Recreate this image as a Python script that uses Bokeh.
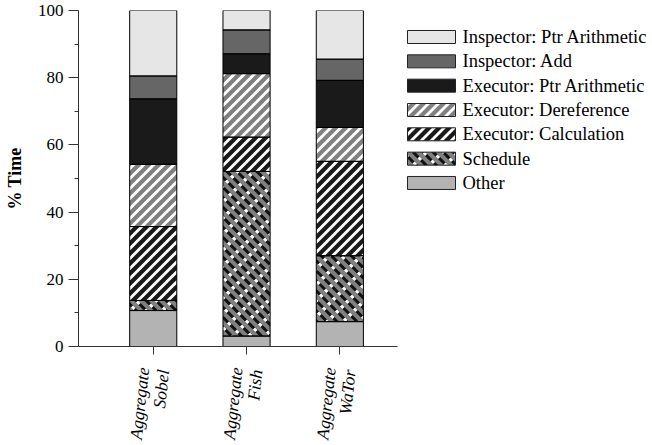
from bokeh.plotting import figure
from bokeh.models import ColumnDataSource, Range1d, FixedTicker
from bokeh.layouts import row
from bokeh.core.properties import value
from bokeh.embed import file_html
from bokeh.resources import INLINE
import math

# ---- data ----
groups = ["Aggregate\nSobel", "Aggregate\nFish", "Aggregate\nWaTor"]
xpos = [1, 2, 3]
other = [10.7, 3.1, 7.4]
schedule = [3.0, 49.0, 19.6]
exec_calc = [22.0, 10.2, 28.1]
exec_deref = [18.5, 18.9, 10.1]
exec_ptr = [19.5, 5.9, 14.0]
insp_add = [6.8, 7.1, 6.3]
insp_ptr = [19.5, 5.8, 14.5]

series_names = ["Other", "Schedule", "Executor: Calculation", "Executor: Dereference",
                "Executor: Ptr Arithmetic", "Inspector: Add", "Inspector: Ptr Arithmetic"]
series_vals = [other, schedule, exec_calc, exec_deref, exec_ptr, insp_add, insp_ptr]
y_ticks = [0, 20, 40, 60, 80, 100]
y_minor = [10, 30, 50, 70, 90]

# ---- styles ----
fills = ["#b3b3b3", "#808080", "#1a1a1a", "#808080", "#1a1a1a", "#666666", "#e6e6e6"]
patterns = [None, "sched", "fwd", "fwd", None, None, None]
FONT = "Liberation Serif"

FRAME_W, FRAME_H = 319, 336
X0, X1 = 0.199, 3.618
BW = 0.505
SX = FRAME_W / (X1 - X0)
SY = FRAME_H / 100.0


def clip(poly, a, b, c):
    """Keep part of polygon with a*x + b*y <= c."""
    out = []
    n = len(poly)
    for i in range(n):
        P = poly[i]
        Q = poly[(i + 1) % n]
        fp = a * P[0] + b * P[1] - c
        fq = a * Q[0] + b * Q[1] - c
        if fp <= 0:
            out.append(P)
        if (fp < 0 < fq) or (fq < 0 < fp):
            t = fp / (fp - fq)
            out.append((P[0] + t * (Q[0] - P[0]), P[1] + t * (Q[1] - P[1])))
    return out


def bands(x0, x1, y0, y1, sx, sy, kind, period=10.0, width=4.0, cut=None):
    """Stripe polygons (in data units) clipped to a rectangle."""
    ya, yb = sorted([y0 * sy, y1 * sy])
    xa, xb = sorted([x0 * sx, x1 * sx])
    rect = [(xa, ya), (xb, ya), (xb, yb), (xa, yb)]
    if kind == "fwd":      # "/" : u = X - Y
        lo, hi = xa - yb, xb - ya
        coef = (1, -1)
    else:                  # "\" : v = X + Y
        lo, hi = xa + ya, xb + yb
        coef = (1, 1)
    polys = []
    k = math.floor(lo / period) - 1
    while k * period <= hi:
        a0 = k * period
        a1 = a0 + width
        pl = clip(rect, -coef[0], -coef[1], -a0)
        pl = clip(pl, coef[0], coef[1], a1) if pl else pl
        if len(pl) >= 3:
            if cut is None:
                polys.append(pl)
            else:
                cp, cw = cut
                ulo = min(X - Y for X, Y in pl)
                uhi = max(X - Y for X, Y in pl)
                m = math.floor(ulo / cp) - 1
                while m * cp <= uhi:
                    b0 = m * cp
                    q = clip(pl, -1, 1, -b0)
                    q = clip(q, 1, -1, b0 + cw) if q else q
                    if len(q) >= 3:
                        polys.append(q)
                    m += 1
        k += 1
    xs = [[X / sx for X, Y in pl] for pl in polys]
    ys = [[Y / sy for X, Y in pl] for pl in polys]
    return xs, ys


def draw_pattern(fig, kind, x0, x1, y0, y1, sx, sy):
    if kind == "fwd":
        xs, ys = bands(x0, x1, y0, y1, sx, sy, "fwd", 10.0, 4.0)
        fig.patches(xs, ys, fill_color="white", line_color=None)
    elif kind == "sched":
        xs, ys = bands(x0, x1, y0, y1, sx, sy, "back", 10.0, 4.2)
        fig.patches(xs, ys, fill_color="#111111", line_color=None)
        xs, ys = bands(x0, x1, y0, y1, sx, sy, "back", 10.0, 4.2, cut=(16.0, 5.0))
        fig.patches(xs, ys, fill_color="white", line_color=None)


# ---- main figure ----
data = {"x": xpos}
bottoms = [0.0] * len(xpos)
tops_all = []
for i, v in enumerate(series_vals):
    tops = [b + val for b, val in zip(bottoms, v)]
    data["b%d" % i] = list(bottoms)
    data["t%d" % i] = tops
    tops_all.append((list(bottoms), tops))
    bottoms = tops
src = ColumnDataSource(data)

TOTAL_H = 442
LEFT, TOP = 78, 10
BOTTOM = TOTAL_H - TOP - FRAME_H
p = figure(frame_width=FRAME_W, frame_height=FRAME_H, output_backend="svg", toolbar_location=None,
           x_range=Range1d(X0, X1), y_range=Range1d(0, 100),
           min_border_left=LEFT, min_border_right=2, min_border_top=TOP,
           min_border_bottom=BOTTOM)
p.outline_line_color = None
p.xgrid.visible = False
p.ygrid.visible = False

for i in range(len(series_vals)):
    p.vbar(x="x", width=BW, bottom="b%d" % i, top="t%d" % i, source=src,
           fill_color=fills[i], line_color=None)
    if patterns[i]:
        bl, tl = tops_all[i]
        for xc, b, t in zip(xpos, bl, tl):
            draw_pattern(p, patterns[i], xc - BW / 2, xc + BW / 2, b, t, SX, SY)
for i in range(len(series_vals)):
    p.vbar(x="x", width=BW, bottom="b%d" % i, top="t%d" % i, source=src,
           fill_color=None, line_color="#000000", line_width=1)

xa = p.xaxis[0]
xa.ticker = FixedTicker(ticks=xpos)
xa.major_label_overrides = {x: g for x, g in zip(xpos, groups)}
xa.major_label_orientation = math.radians(84)
xa.major_label_text_font = FONT
xa.major_label_text_font_size = "17.5px"
xa.major_label_text_font_style = "italic"
xa.major_label_text_color = "#000000"
xa.major_label_text_line_height = 1.0
xa.major_tick_out = 8
xa.major_tick_in = 0
xa.minor_tick_line_color = None
xa.axis_line_color = "#333333"
xa.major_tick_line_color = "#333333"
xa.major_label_standoff = 14

ya = p.yaxis[0]
ya.ticker = FixedTicker(ticks=y_ticks, minor_ticks=y_minor)
ya.major_tick_out = 10
ya.major_tick_in = 0
ya.minor_tick_out = 4
ya.minor_tick_in = 0
ya.axis_line_color = "#333333"
ya.major_tick_line_color = "#333333"
ya.minor_tick_line_color = "#333333"
ya.major_label_text_font = FONT
ya.major_label_text_font_size = "17px"
ya.major_label_text_color = "#000000"
ya.major_label_standoff = 5
ya.axis_label = "% Time"
ya.axis_label_text_font = FONT
ya.axis_label_text_font_size = "18px"
ya.axis_label_text_font_style = "bold"
ya.axis_label_text_color = "#000000"
ya.axis_label_standoff = 10

# ---- legend figure (frame aligned with the main frame; y in canvas pixels) ----
LW = 247
q = figure(frame_width=LW, frame_height=FRAME_H, output_backend="svg", toolbar_location=None,
           x_range=Range1d(0, LW), y_range=Range1d(TOP + FRAME_H, TOP),
           x_axis_type=None, y_axis_type=None,
           min_border_left=0, min_border_right=0, min_border_top=TOP, min_border_bottom=BOTTOM)
q.outline_line_color = None
q.xgrid.visible = False
q.ygrid.visible = False

order = list(reversed(range(len(series_names))))
box_x0, box_x1 = 8, 56
pitch, first = 24.33, 36.5
lab_x, lab_y, lab_t = [], [], []
for j, i in enumerate(order):
    yc = first + pitch * j
    y0, y1 = yc - 6.5, yc + 6.5
    q.quad(left=box_x0, right=box_x1, bottom=y1, top=y0, fill_color=fills[i], line_color=None)
    if patterns[i]:
        draw_pattern(q, patterns[i], box_x0, box_x1, y0, y1, 1.0, -1.0)
    q.quad(left=box_x0, right=box_x1, bottom=y1, top=y0, fill_color=None,
           line_color="#222222", line_width=1)
    lab_x.append(63)
    lab_y.append(yc)
    lab_t.append(series_names[i])
q.text(x=lab_x, y=lab_y, text=lab_t, text_font=value(FONT), text_font_size="18.5px",
       text_baseline="middle", text_align="left", text_color="#000000")

layout = row(p, q, spacing=0)
open("out.html", "w").write(file_html(layout, INLINE))
